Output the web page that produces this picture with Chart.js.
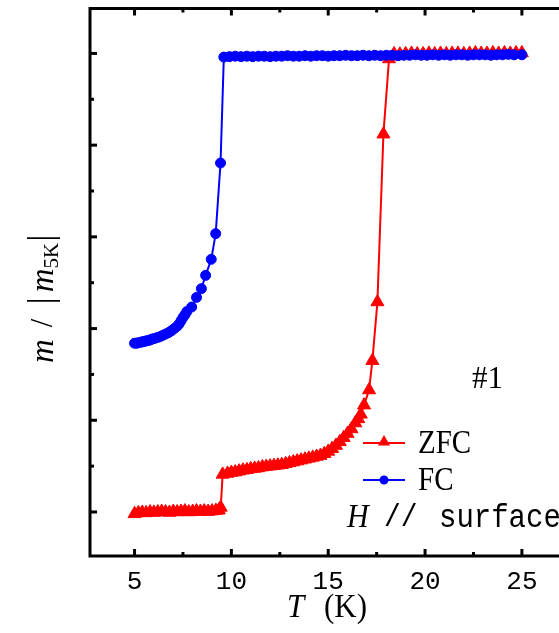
<!DOCTYPE html>
<html>
<head>
<meta charset="utf-8">
<script src="https://cdn.jsdelivr.net/npm/chart.js@4/dist/chart.umd.min.js"></script>
<style>
html, body { margin: 0; padding: 0; background: #fff; overflow: hidden; }
#wrap { position: relative; width: 600px; height: 633px; }
</style>
</head>
<body>
<div id="wrap"><canvas id="c" width="600" height="633"></canvas></div>
<script>
// x tick values and y tick values (y labels are off-screen in the original)
var xTicks = [5, 10, 15, 20, 25]
var xMinor = [7.5, 12.5, 17.5, 22.5]
var yTicks = [0, -0.2, -0.4, -0.6, -0.8, -1.0]
var yMinor = [-0.1, -0.3, -0.5, -0.7, -0.9]

// FC curve: T (K) and m/|m5K|
var fcT = [5.0, 5.1, 5.2, 5.3, 5.4, 5.5, 5.6, 5.7, 5.8, 5.9, 6.0, 6.15, 6.3, 6.45, 6.6, 6.75, 6.9, 7.05,
    7.2, 7.3, 7.4, 7.5, 7.6, 7.7, 7.95, 8.2, 8.45, 8.67, 8.96, 9.19, 9.44, 9.61,
    9.9, 10.2, 10.5, 10.8, 11.1, 11.4, 11.7, 12.0, 12.3, 12.6, 12.9, 13.2, 13.5, 13.8, 14.1, 14.4,
    14.7, 15.0, 15.3, 15.6, 15.9, 16.2, 16.5, 16.8, 17.1, 17.4, 17.7, 18.0, 18.3, 18.6, 18.9, 19.2,
    19.5, 19.8, 20.1, 20.4, 20.7, 21.0, 21.3, 21.6, 21.9, 22.2, 22.5, 22.8, 23.1, 23.4, 23.7, 24.0,
    24.3, 24.6, 25.0]
var fcM = [-0.632, -0.632, -0.631, -0.630, -0.629, -0.628, -0.627, -0.626, -0.625, -0.623, -0.622, -0.620,
    -0.618, -0.615, -0.612, -0.609, -0.605, -0.600, -0.595, -0.590, -0.583, -0.576, -0.570, -0.563,
    -0.553, -0.532, -0.513, -0.484, -0.449, -0.393, -0.239, -0.008,
    -0.007, -0.006, -0.007, -0.006, -0.007, -0.006, -0.006, -0.007, -0.006, -0.006, -0.005, -0.006,
    -0.006, -0.005, -0.006, -0.005, -0.005, -0.006, -0.005, -0.005, -0.004, -0.005, -0.005, -0.004,
    -0.005, -0.004, -0.005, -0.004, -0.004, -0.005, -0.004, -0.004, -0.003, -0.004, -0.004, -0.003,
    -0.004, -0.003, -0.004, -0.003, -0.003, -0.004, -0.003, -0.003, -0.003, -0.004, -0.003, -0.003,
    -0.002, -0.003, -0.003]

// ZFC curve
var zfcT = [5.0, 5.2, 5.4, 5.6, 5.8, 6.0, 6.2, 6.4, 6.6, 6.8, 7.0, 7.2, 7.4, 7.6, 7.8, 8.0, 8.2, 8.4,
    8.6, 8.8, 9.0, 9.2, 9.35, 9.45, 9.55,
    9.8, 10.0, 10.2, 10.4, 10.6, 10.8, 11.0, 11.2, 11.4, 11.6, 11.8, 12.0, 12.2, 12.4, 12.6, 12.8,
    13.0, 13.2, 13.4, 13.6, 13.8, 14.0, 14.2, 14.4, 14.6, 14.8, 15.0, 15.2, 15.4, 15.6, 15.8, 16.0,
    16.2, 16.4, 16.55, 16.68, 16.85, 17.11, 17.28, 17.54, 17.85, 18.14,
    18.4, 18.7, 19.0, 19.3, 19.6, 19.9, 20.2, 20.5, 20.8, 21.1, 21.4, 21.7, 22.0, 22.3, 22.6, 22.9,
    23.2, 23.5, 23.8, 24.1, 24.4, 24.7, 25.0]
var zfcM = [-1.004, -1.002, -1.001, -1.002, -1.000, -1.001, -1.000, -0.999, -1.000, -1.001, -0.999, -1.000,
    -0.999, -0.998, -1.000, -0.999, -0.998, -0.999, -0.998, -0.999, -0.998, -0.997, -0.996, -0.990, -0.918,
    -0.916, -0.914, -0.913, -0.911, -0.909, -0.908, -0.906, -0.905, -0.904, -0.902, -0.901, -0.900,
    -0.899, -0.898, -0.897, -0.895, -0.893, -0.891, -0.889, -0.887, -0.885, -0.883, -0.881, -0.879,
    -0.877, -0.873, -0.868, -0.862, -0.855, -0.847, -0.838, -0.829, -0.819, -0.806, -0.797, -0.787,
    -0.767, -0.734, -0.670, -0.542, -0.176, -0.012,
    -0.001, -0.002, -0.001, 0.000, -0.001, -0.001, 0.000, -0.001, 0.000, -0.001, 0.000, 0.000,
    -0.001, 0.000, 0.001, 0.000, 0.000, 0.001, 0.000, 0.001, 0.000, 0.001, 0.001]

function pts(xs, ys){
    return xs.map(function(x, i){ return {x: x, y: ys[i]} })
}

var RED = '#ff0000', BLUE = '#0000ff'
var SERIF = '"Liberation Serif", "DejaVu Serif", serif'
var MONO = '"Liberation Mono", "DejaVu Sans Mono", monospace'

// text drawn a bit taller than wide, like the original's font
function tallText(c, s, x, y, sy){
    c.save()
    c.translate(x, y)
    c.scale(1, sy)
    c.fillText(s, 0, 0)
    c.restore()
}

// frame, inward ticks and the text annotations
var decor = {
    id: 'decor',
    afterDraw: function(chart){
        var c = chart.ctx, a = chart.chartArea
        var xs = chart.scales.x, ys = chart.scales.y
        c.save()
        c.strokeStyle = '#000'
        c.lineWidth = 3
        c.beginPath()
        c.moveTo(a.right + 10, a.top); c.lineTo(a.left, a.top)
        c.lineTo(a.left, a.bottom); c.lineTo(a.right + 10, a.bottom)
        c.stroke()
        xTicks.forEach(function(v){
            var px = xs.getPixelForValue(v)
            c.beginPath(); c.moveTo(px, a.bottom); c.lineTo(px, a.bottom - 7); c.stroke()
            c.beginPath(); c.moveTo(px, a.top); c.lineTo(px, a.top + 7); c.stroke()
        })
        xMinor.forEach(function(v){
            var px = xs.getPixelForValue(v)
            c.beginPath(); c.moveTo(px, a.bottom); c.lineTo(px, a.bottom - 4); c.stroke()
            c.beginPath(); c.moveTo(px, a.top); c.lineTo(px, a.top + 4); c.stroke()
        })
        yTicks.forEach(function(v){
            var py = ys.getPixelForValue(v)
            c.beginPath(); c.moveTo(a.left, py); c.lineTo(a.left + 7, py); c.stroke()
        })
        yMinor.forEach(function(v){
            var py = ys.getPixelForValue(v)
            c.beginPath(); c.moveTo(a.left, py); c.lineTo(a.left + 4, py); c.stroke()
        })

        c.fillStyle = '#000'
        c.textBaseline = 'middle'

        // x title
        c.textAlign = 'left'
        c.font = 'italic 31px ' + SERIF
        tallText(c, 'T', 287, 608, 1.1)
        c.font = '31px ' + SERIF
        tallText(c, '(K)', 324, 608, 1.1)

        // y title, rotated
        c.save()
        c.translate(44, 363)
        c.rotate(-Math.PI / 2)
        var x = 0
        c.font = 'italic 33px ' + SERIF
        c.fillText('m', x, 0); x += c.measureText('m').width + 12
        c.font = '31px ' + SERIF
        c.fillText('/', x, 0); x += c.measureText('/').width + 14
        c.font = '36px ' + SERIF
        c.fillText('|', x, -1); x += c.measureText('|').width + 5
        c.font = 'italic 33px ' + SERIF
        c.fillText('m', x, 0); x += c.measureText('m').width
        c.font = '21px ' + SERIF
        c.fillText('5K', x, 8); x += c.measureText('5K').width + 1
        c.font = '36px ' + SERIF
        c.fillText('|', x, -1)
        c.restore()

        // legend
        c.lineWidth = 2
        c.strokeStyle = RED; c.fillStyle = RED
        c.beginPath(); c.moveTo(363, 443); c.lineTo(405, 443); c.stroke()
        Chart.helpers.drawPoint(c, {pointStyle: 'triangle', radius: 5, rotation: 0, borderWidth: 1}, 384, 442)
        c.strokeStyle = BLUE; c.fillStyle = BLUE
        c.beginPath(); c.moveTo(363, 480); c.lineTo(405, 480); c.stroke()
        Chart.helpers.drawPoint(c, {pointStyle: 'circle', radius: 3.5, rotation: 0, borderWidth: 1}, 384, 480)

        c.fillStyle = '#000'
        c.font = '29px ' + SERIF
        tallText(c, 'ZFC', 418, 444, 1.15)
        tallText(c, 'FC', 418, 481, 1.15)
        c.font = '31px ' + SERIF
        tallText(c, '#1', 472, 379, 1.05)

        c.font = 'italic 30px ' + SERIF
        tallText(c, 'H', 347, 518, 1.1)
        c.font = '28px ' + MONO
        tallText(c, '//', 384, 518, 1.1)
        c.font = '29px ' + MONO
        tallText(c, 'surface', 439, 518, 1.15)
        c.restore()
    }
}

var ctx = document.getElementById('c').getContext('2d')
var chart = new Chart(ctx, {
    type: 'scatter',
    data: {
        datasets: [
            {
                label: 'ZFC',
                data: pts(zfcT, zfcM),
                showLine: true,
                borderColor: RED,
                backgroundColor: RED,
                borderWidth: 2,
                pointStyle: 'triangle',
                pointRadius: 7.5,
                pointBorderWidth: 1,
                tension: 0,
                order: 2
            },
            {
                label: 'FC',
                data: pts(fcT, fcM),
                showLine: true,
                borderColor: BLUE,
                backgroundColor: BLUE,
                borderWidth: 2,
                pointStyle: 'circle',
                pointRadius: 5,
                pointBorderWidth: 1,
                tension: 0,
                order: 1
            }
        ]
    },
    options: {
        responsive: false,
        animation: false,
        layout: { padding: { left: 90, top: 8, right: 20, bottom: 0 } },
        scales: {
            x: {
                type: 'linear',
                min: 2.7,
                max: 28,
                grid: { display: false, drawTicks: false },
                border: { display: false },
                ticks: {
                    color: '#000',
                    font: { family: MONO, size: 26 },
                    padding: 11,
                    maxRotation: 0
                },
                afterBuildTicks: function(s){ s.ticks = xTicks.map(function(v){ return {value: v} }) },
                afterFit: function(s){ s.height = 77 }
            },
            y: {
                type: 'linear',
                min: -1.096,
                max: 0.098,
                grid: { display: false, drawTicks: false },
                border: { display: false },
                ticks: { display: false },
                afterBuildTicks: function(s){ s.ticks = yTicks.map(function(v){ return {value: v} }) },
                afterFit: function(s){ s.width = 0 }
            }
        },
        plugins: {
            legend: { display: false },
            tooltip: { enabled: false }
        }
    },
    plugins: [decor]
})
</script>
</body>
</html>
